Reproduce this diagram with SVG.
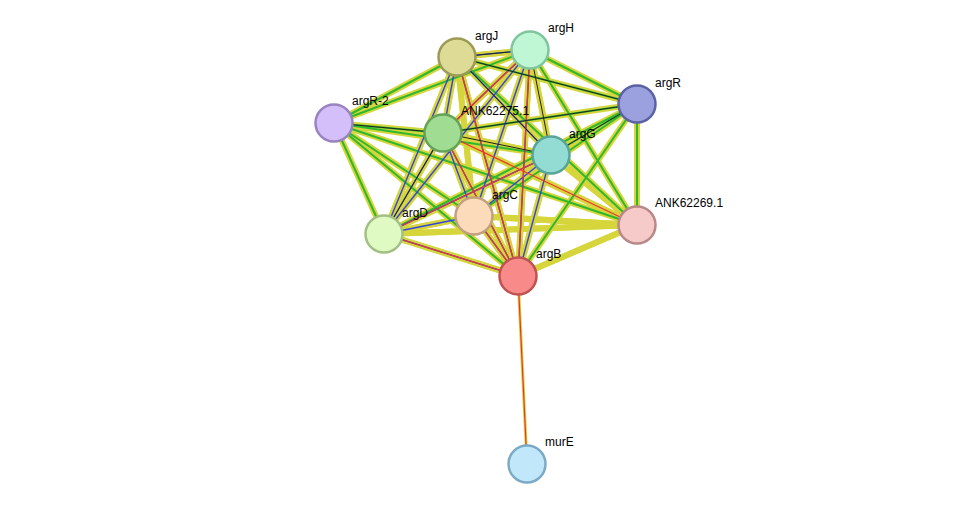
<svg xmlns="http://www.w3.org/2000/svg" width="975" height="509" viewBox="0 0 975 509">
<style>
.a{stroke:#d6d63c;stroke-width:6;fill:none}
.b{stroke:#2db82d;stroke-width:3.5;fill:none}
.c{stroke:#222;stroke-width:1;fill:none}
.d{stroke:#3344dd;stroke-width:1.4;fill:none}
.r{stroke:#ee3333;stroke-width:1.2;fill:none}
.n{stroke-width:2.5}
text{font-family:"Liberation Sans",Arial,sans-serif;font-size:12px;fill:#000}
</style>
<defs>
<g id="none"/>
</defs>
<g id="connectors">
<g id="rich">
<path id="E" d="M457,57L530,50M457,57L443,133M457,57L551,155M457,57L474,216M457,57L384,234M457,57L518,276M530,50L443,133M530,50L551,155M530,50L474,216M530,50L384,234M530,50L518,276M443,133L474,216M443,133L384,234M443,133L518,276M443,133L551,155M551,155L474,216M551,155L384,234M551,155L518,276M474,216L384,234M474,216L518,276M384,234L518,276M474,216L637,225M384,234L637,225M518,276L637,225M443,133L637,225M551,155L637,225" class="a"/>
<use href="#E" class="b" style="stroke:#2db82d;stroke-width:3.5"/>
</g>
<g id="plain">
<path id="F" d="M457,57L637,104M457,57L334,123M457,57L637,225M530,50L637,104M530,50L334,123M530,50L637,225M637,104L443,133M637,104L551,155M637,104L384,234M637,104L518,276M637,104L637,225M637,104L474,216M334,123L443,133M334,123L551,155M334,123L384,234M334,123L518,276M334,123L474,216M334,123L637,225" class="a"/>
</g>
<path d="M457,57L637,104M457,57L334,123M457,57L637,225M530,50L637,104M530,50L334,123M530,50L637,225M637,104L443,133M637,104L551,155M637,104L384,234M637,104L518,276M637,104L637,225M637,104L474,216M334,123L443,133M334,123L551,155M334,123L384,234M334,123L518,276M334,123L474,216M334,123L637,225" class="b" style="stroke-width:2"/>
<path d="M457,57L530,50M457,57L443,133M457,57L551,155M457,57L384,234M457,57L518,276M530,50L443,133M530,50L474,216M530,50L384,234M530,50L518,276M443,133L474,216M443,133L384,234M443,133L518,276M551,155L474,216M551,155L384,234M551,155L518,276M474,216L384,234M474,216L518,276M384,234L518,276" class="d"/>
<path d="M457,57L518,276M530,50L443,133M530,50L518,276M443,133L518,276M443,133L637,225M384,234L518,276M474,216L518,276M384,234L551,155" class="r"/>
<path d="M457,57L530,50M457,57L551,155M530,50L551,155M443,133L551,155M334,123L443,133M637,104L443,133M551,155L637,104M443,133L384,234M457,57L637,104" class="c"/>
<path d="M518,276L527,464" stroke="#d6d63c" stroke-width="3" fill="none"/>
<path d="M518,276L527,464" stroke="#ee3333" stroke-width="1.2" fill="none"/>
</g>
<g id="argJ"><circle cx="457" cy="57" r="18.5" class="n" fill="#dedb96" stroke="#9b9b55"/><text x="475" y="40">argJ</text></g>
<g id="argH"><circle cx="530" cy="50" r="18.5" class="n" fill="#bff7d4" stroke="#80c59b"/><text x="548" y="32">argH</text></g>
<g id="argR"><circle cx="637" cy="104" r="18.5" class="n" fill="#9aa1de" stroke="#5b62a3"/><text x="655" y="87">argR</text></g>
<g id="argR-2"><circle cx="334" cy="123" r="18.5" class="n" fill="#d4bffa" stroke="#9884c0"/><text x="352" y="105">argR-2</text></g>
<g id="ANK62275.1"><circle cx="443" cy="133" r="18.5" class="n" fill="#a0dd92" stroke="#64a358"/><text x="461" y="115">ANK62275.1</text></g>
<g id="argG"><circle cx="551" cy="155" r="18.5" class="n" fill="#92dcd3" stroke="#58a39a"/><text x="569" y="138">argG</text></g>
<g id="ANK62269.1"><circle cx="637" cy="225" r="18.5" class="n" fill="#f7caca" stroke="#b98888"/><text x="655" y="207">ANK62269.1</text></g>
<g id="argC"><circle cx="474" cy="216" r="18.5" class="n" fill="#fcdbbb" stroke="#c2a07f"/><text x="492" y="199">argC</text></g>
<g id="argD"><circle cx="384" cy="234" r="18.5" class="n" fill="#e0fac4" stroke="#a2c083"/><text x="402" y="217">argD</text></g>
<g id="argB"><circle cx="518" cy="276" r="18.5" class="n" fill="#f88a8a" stroke="#c05252"/><text x="536" y="258">argB</text></g>
<g id="murE"><circle cx="527" cy="464" r="18.5" class="n" fill="#c0e7fa" stroke="#7ca9c4"/><text x="545" y="446">murE</text></g>
</svg>
